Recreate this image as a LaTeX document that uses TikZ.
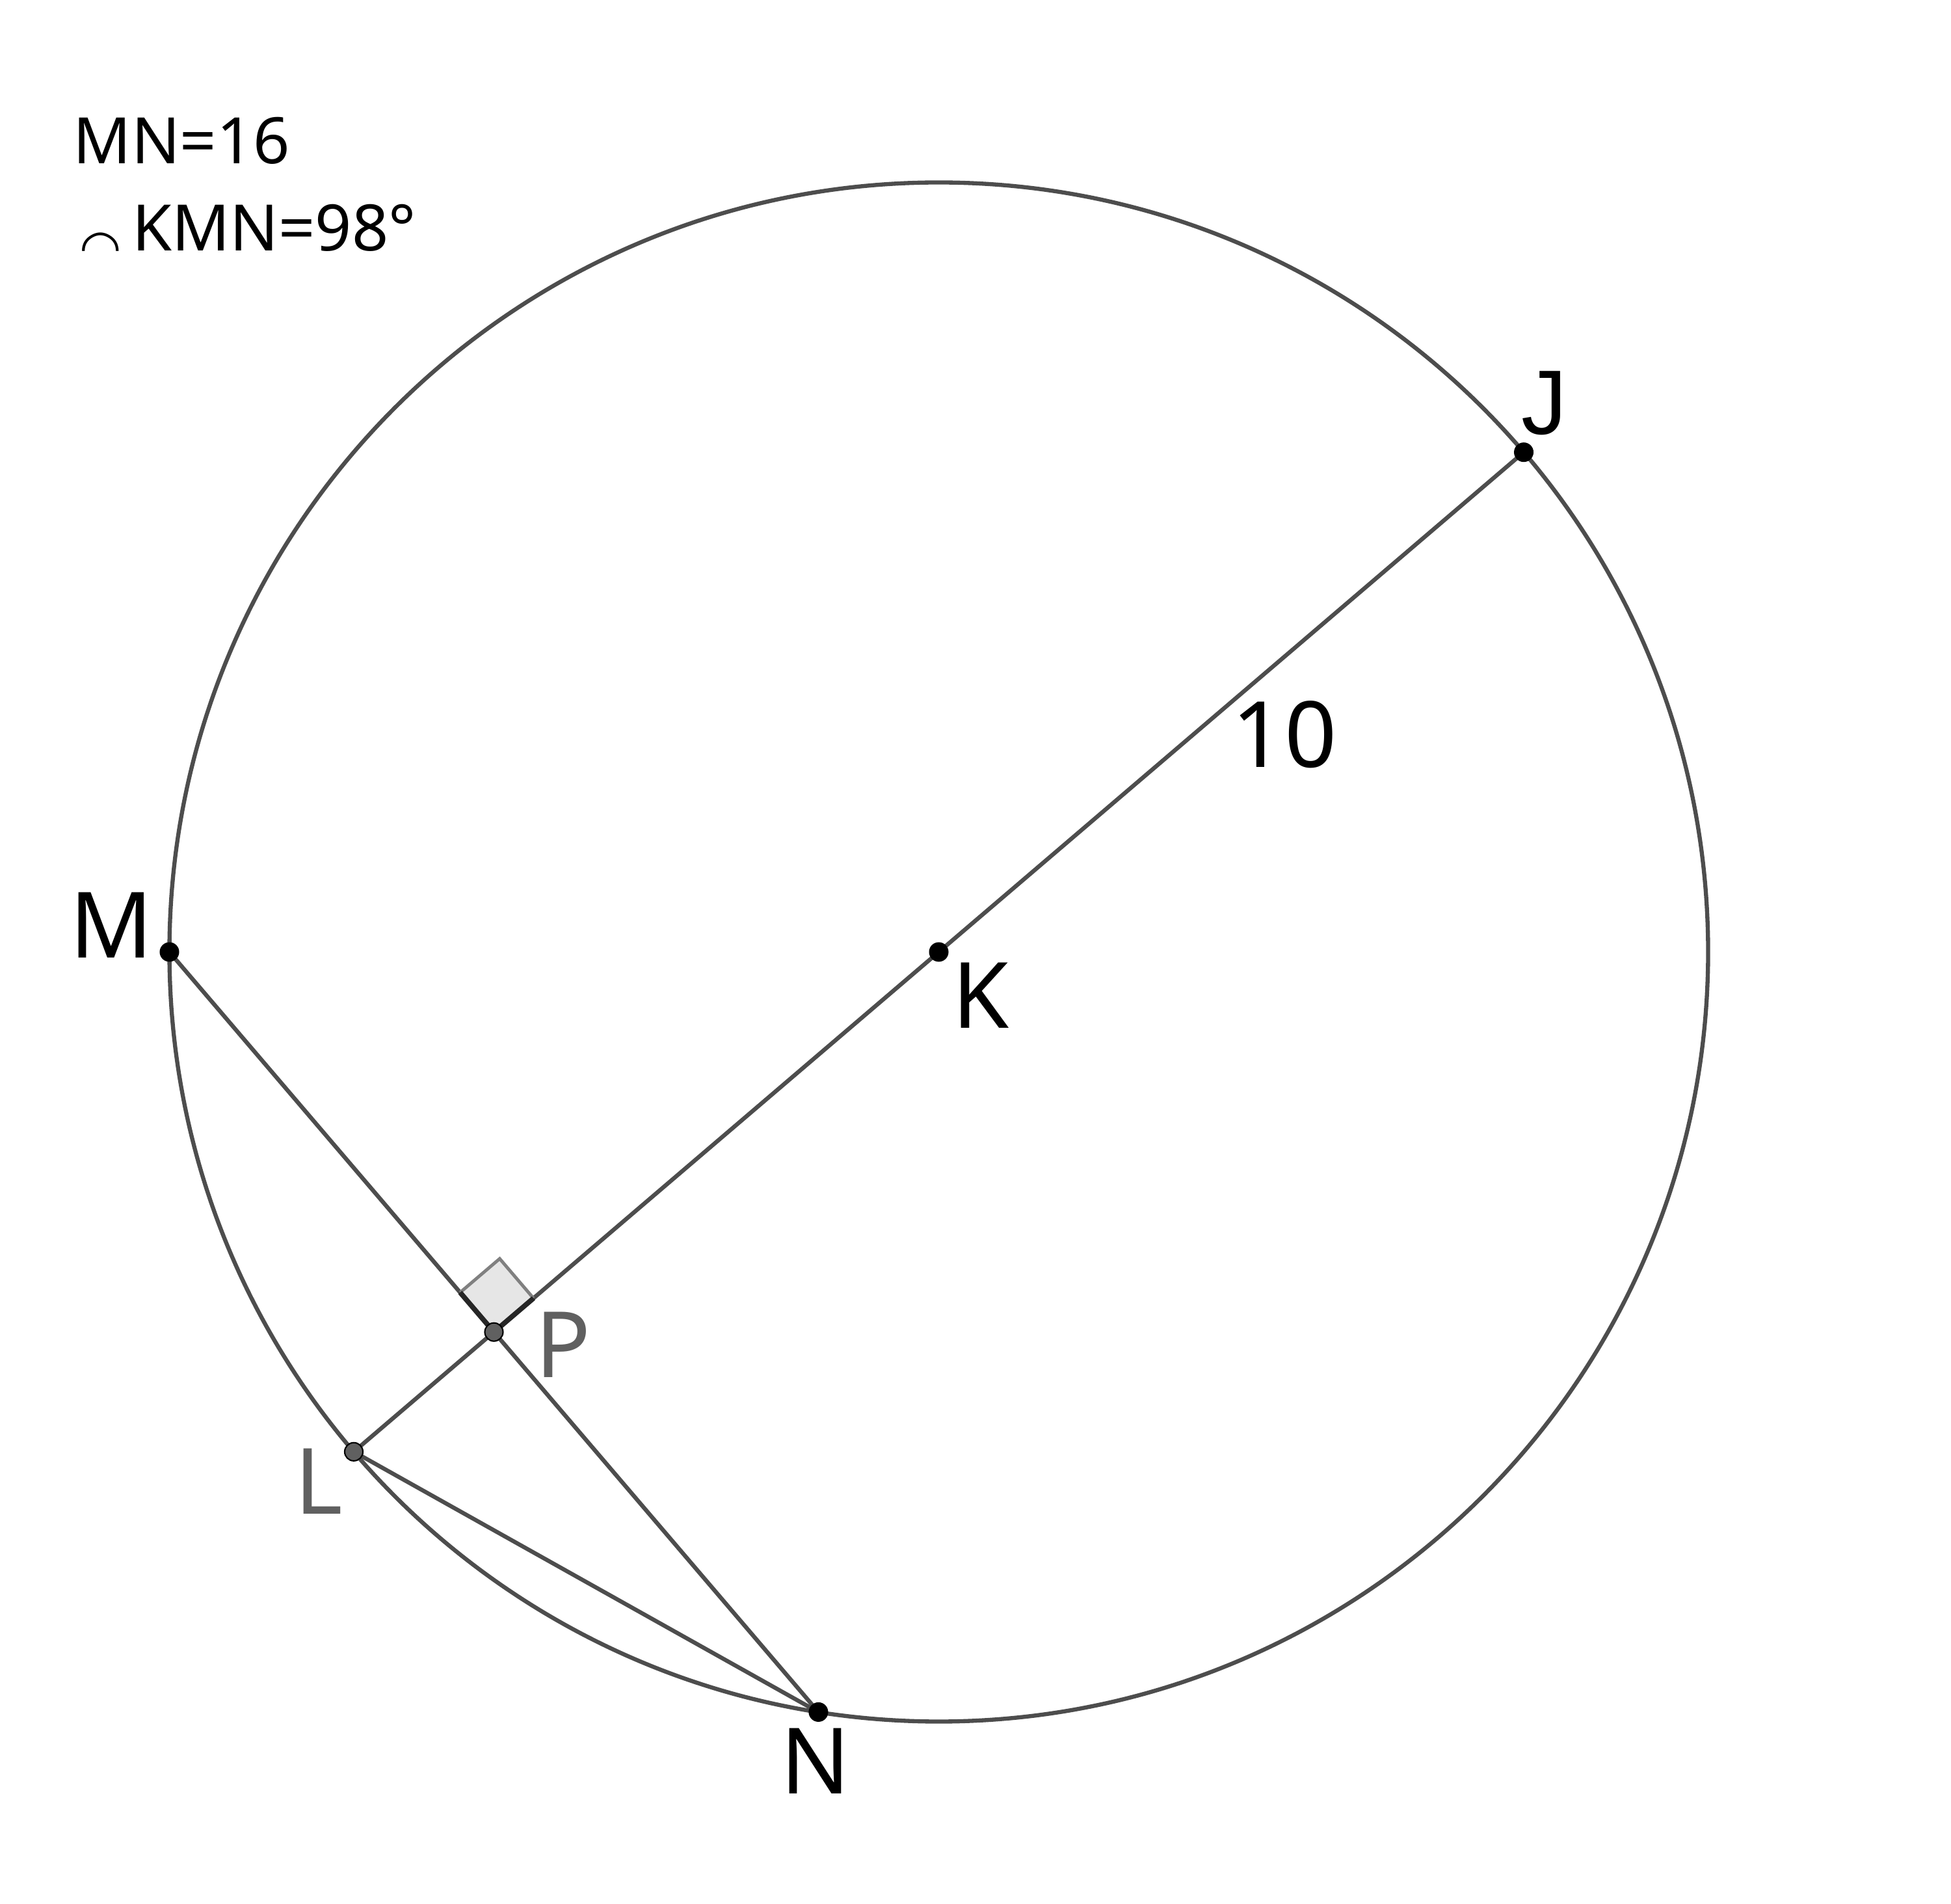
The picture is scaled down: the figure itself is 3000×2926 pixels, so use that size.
\documentclass[tikz,border=0pt]{standalone}
\usepackage{fontspec}
\usetikzlibrary{calc}
\setmainfont{Noto Sans}
\newfontfamily\symfont{DejaVu Sans}
\newfontfamily\jfont{Liberation Sans}
\definecolor{linegray}{HTML}{4D4D4D}
\definecolor{labelgray}{HTML}{606060}
\definecolor{markfill}{HTML}{E6E6E6}
\begin{document}
\begin{tikzpicture}[x=0.01cm,y=0.01cm,
    seg/.style={draw=linegray, line width=1.8pt},
    dotblack/.style={circle, fill=black, inner sep=0pt, minimum size=0.30cm},
    dotgray/.style={circle, fill=labelgray, draw=black, line width=0.6pt, inner sep=0pt, minimum size=0.28cm},
    lbl/.style={inner sep=0pt, anchor=base, font=\fontsize{40}{48}\selectfont},
    info/.style={inner sep=0pt, anchor=base west, font=\fontsize{28}{34}\selectfont}]
    \useasboundingbox (0,0) rectangle (3000,2926);

    % Points
    \coordinate (K) at (1443.5,1462.5);
    \coordinate (J) at ($(K)+(40.5:1183)$);
    \coordinate (M) at ($(K)+(180:1183)$);
    \coordinate (N) at ($(K)+(261:1183)$);
    \coordinate (L) at ($(K)+(220.5:1183)$);
    \coordinate (P) at ($(K)+(220.5:899.6)$);

    % Circle
    \draw[seg] (K) circle (1183);

    % Chords and diameter
    \draw[seg] (M) -- (N);
    \draw[seg] (J) -- (L);
    \draw[seg] (L) -- (N);

    % Right angle mark
    \coordinate (Pa) at ($(P)+(130.5:80)$);
    \coordinate (Pb) at ($(P)+(40.5:80)$);
    \coordinate (Pc) at ($(P)+(85.5:113.1)$);
    \fill[markfill] (P) -- (Pa) -- (Pc) -- (Pb) -- cycle;
    \draw[gray, line width=1.4pt] (Pa) -- (Pc) -- (Pb);
    \draw[black!85, line width=2.2pt] (Pa) -- (P) -- (Pb);

    % Dots
    \node[dotblack] (dJ) at (J) {};
    \node[dotblack] (dM) at (M) {};
    \node[dotblack] (dK) at (K) {};
    \node[dotblack] (dN) at (N) {};
    \node[dotgray] (dP) at (P) {};
    \node[dotgray] (dL) at (L) {};

    % Labels
    \node[lbl] (lJ) at (2375,2258) {\jfont J};
    \node[lbl] (lM) at (171,1453) {M};
    \node[lbl] (lK) at (1508,1345) {K};
    \node[lbl] (l10) at (1975,1746) {10};
    \node[lbl, labelgray] (lP) at (866,809) {P};
    \node[lbl, labelgray] (lL) at (490,599) {L};
    \node[lbl] (lN) at (1254,169) {N};

    % Given values
    \node[info] (given1) at (112,2674) {MN=16};
    \node[info] (given2) at (122,2540) {\raisebox{-5.5pt}{\scalebox{0.75}{\symfont ◠}}\,KMN=98°};
\end{tikzpicture}
\end{document}
